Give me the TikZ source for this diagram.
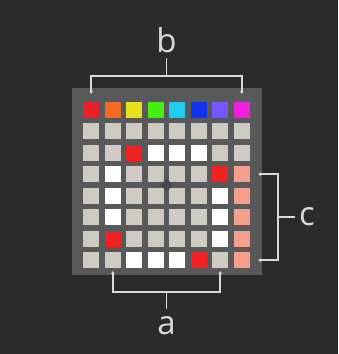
\documentclass[tikz,border=0pt]{standalone}
\usepackage{fontspec}
\setmainfont{Open Sans}
\usetikzlibrary{arrows.meta,calc}
\definecolor{bg}{HTML}{2B2B2B}
\definecolor{panel}{HTML}{58595B}
\definecolor{hole}{HTML}{48494B}
\definecolor{padg}{HTML}{CFCBC2}
\definecolor{padr}{HTML}{EE2222}
\definecolor{pads}{HTML}{F4A08C}
\definecolor{padw}{HTML}{FFFFFF}
\definecolor{linec}{HTML}{DADADA}
\definecolor{t1}{HTML}{E8202A}
\definecolor{t2}{HTML}{F26B22}
\definecolor{t3}{HTML}{E8E018}
\definecolor{t4}{HTML}{44EE10}
\definecolor{t5}{HTML}{22CCEE}
\definecolor{t6}{HTML}{1133EE}
\definecolor{t7}{HTML}{7755FF}
\definecolor{t8}{HTML}{EE22DD}
\begin{document}
\begin{tikzpicture}[x=1pt,y=-1pt,
  pad/.style={minimum size=16pt, inner sep=0pt, draw=none},
  bracket/.style={draw=linec, line width=1.8pt},
  tip/.style={-{Stealth[length=3pt,width=3.5pt]}},
  lbl/.style={text=linec, inner sep=0pt, font=\fontsize{33}{36}\selectfont}]
\useasboundingbox (0,0) rectangle (338,354);
\fill[bg] (0,0) rectangle (338,354);
\node[fill=panel, draw=none, minimum width=190pt, minimum height=187pt, inner sep=0pt] (panel) at (167,181.5) {};
\foreach \rowcols [count=\r from 0] in {
  {t1,t2,t3,t4,t5,t6,t7,t8},
  {padg,padg,padg,padg,padg,padg,padg,padg},
  {padg,padg,padr,padw,padw,padw,padg,padg},
  {padg,padw,padg,padg,padg,padg,padr,pads},
  {padg,padw,padg,padg,padg,padg,padw,pads},
  {padg,padw,padg,padg,padg,padg,padw,pads},
  {padg,padr,padg,padg,padg,padg,padw,pads},
  {padg,padg,padw,padw,padw,padr,padg,pads}}{
  \foreach \col [count=\c from 0] in \rowcols {
    \node[pad, fill=\col] (p\r\c) at ({91.3+21.5*\c},{109.7+21.5*\r}) {};
  }
}
% centre notch
\coordinate (ctr) at (166.55,184.95);
\fill[hole] ($(ctr)+(-6.5,0)$) -- ($(ctr)+(0,-6.5)$) -- ($(ctr)+(6.5,0)$) -- ($(ctr)+(0,6.5)$) -- cycle;
% labels
\node[lbl] (lb) at (166.5,40) {b};
\node[lbl] (lc) at (307,217) {c};
\node[lbl] (la) at (166.5,326) {a};
% bracket b
\coordinate (bs) at (166.5,58);
\coordinate (bm) at (166.5,76);
\coordinate (bl) at (91.3,94);
\coordinate (br) at (241.8,94);
\draw[bracket] (bs) -- (bm);
\draw[bracket, tip] (bm) -| (bl);
\draw[bracket, tip] (bm) -| (br);
% bracket c
\coordinate (cs) at (295,217);
\coordinate (cm) at (278,217);
\coordinate (ct) at (258,174.2);
\coordinate (cb) at (258,260.2);
\draw[bracket] (cs) -- (cm);
\draw[bracket, tip] (cm) |- (ct);
\draw[bracket, tip] (cm) |- (cb);
% bracket a
\coordinate (as) at (166.5,309);
\coordinate (am) at (166.5,292);
\coordinate (al) at (112.8,271);
\coordinate (ar) at (220.3,271);
\draw[bracket] (as) -- (am);
\draw[bracket, tip] (am) -| (al);
\draw[bracket, tip] (am) -| (ar);
\end{tikzpicture}
\end{document}
